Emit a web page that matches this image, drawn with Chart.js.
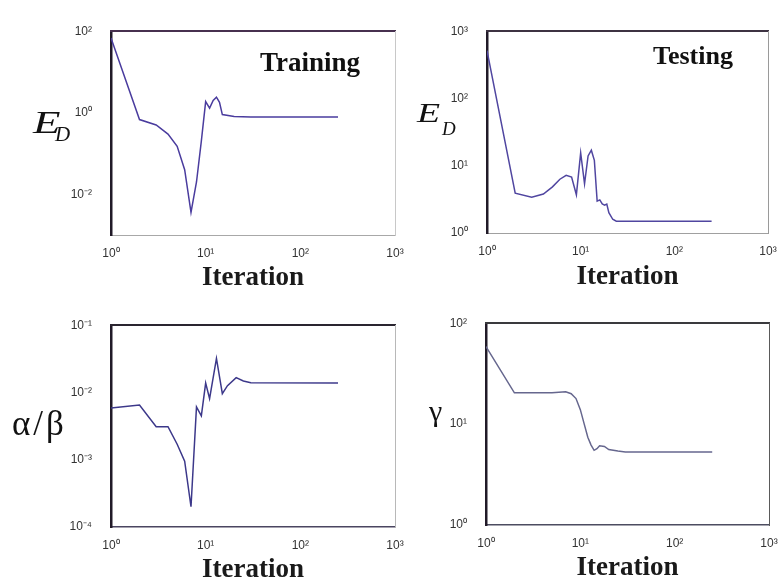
<!DOCTYPE html>
<html>
<head>
<meta charset="utf-8">
<script src="https://cdn.jsdelivr.net/npm/chart.js@4.4.0/dist/chart.umd.min.js"></script>
<style>
  html, body { margin: 0; padding: 0; background: #fff; }
  body { width: 778px; height: 581px; position: relative; overflow: hidden; }
  .panel { position: absolute; }
  .lab { position: absolute; font-family: 'Liberation Serif', 'Times New Roman', serif; color: #111; white-space: nowrap; line-height: 1; }
  .wide { font-style: italic; transform-origin: left center; }
  .sub { font-style: italic; }
  .tag { font-weight: bold; }
</style>
</head>
<body>
<div class="panel" id="pTrain"></div>
<div class="panel" id="pTest"></div>
<div class="panel" id="pRatio"></div>
<div class="panel" id="pGamma"></div>

<div class="lab wide" style="left:33px;top:107px;font-size:31px;transform:scaleX(1.45)">E</div>
<div class="lab sub" style="left:55px;top:124px;font-size:21px">D</div>
<div class="lab wide" style="left:417px;top:100px;font-size:27px;transform:scaleX(1.4)">E</div>
<div class="lab sub" style="left:442px;top:119px;font-size:19px">D</div>
<div class="lab" style="left:12px;top:406px;font-size:35px;letter-spacing:3px">α/β</div>
<div class="lab" style="left:429px;top:396px;font-size:30px">γ</div>
<div class="lab tag" style="left:260px;top:49px;font-size:27px">Training</div>
<div class="lab tag" style="left:653px;top:43px;font-size:26px">Testing</div>

<script>
// iteration axis, shared by all four panels
const xTicks = [1, 10, 100, 1000];
const xTickText = ['10⁰', '10¹', '10²', '10³'];

// training error E_D
const trainIter = [1, 2, 3, 4, 5, 6, 7, 8, 9, 10, 11, 12, 13, 14, 15, 20, 30, 250];
const trainErr = [68, 0.68, 0.5, 0.3, 0.15, 0.04, 0.0036, 0.02, 0.2, 1.87, 1.3, 2.0, 2.4, 1.8, 0.9, 0.81, 0.78, 0.79];
const trainTicks = [0.01, 1, 100];
const trainTickText = ['10⁻²', '10⁰', '10²'];

// testing error E_D
const testIter = [1, 2, 3, 4, 5, 6, 7, 8, 9, 10, 11, 12, 13, 14, 15, 16, 17, 18, 19, 20, 22, 24, 30, 250];
const testErr = [515, 3.9, 3.4, 3.8, 4.85, 6.3, 7.2, 6.8, 3.7, 15.5, 5.4, 14, 17, 12, 2.97, 3.1, 2.7, 2.6, 2.7, 2.0, 1.6, 1.5, 1.5, 1.5];
const testTicks = [1, 10, 100, 1000];
const testTickText = ['10⁰', '10¹', '10²', '10³'];

// alpha / beta
const ratioIter = [1, 2, 3, 4, 5, 6, 7, 8, 9, 10, 11, 13, 15, 17, 21, 25, 30, 250];
const ratioVal = [0.0059, 0.0065, 0.0031, 0.0031, 0.0017, 0.00095, 0.0002, 0.0061, 0.0045, 0.0138, 0.0081, 0.032, 0.0096, 0.0126, 0.0166, 0.0148, 0.014, 0.0138];
const ratioTicks = [0.0001, 0.001, 0.01, 0.1];
const ratioTickText = ['10⁻⁴', '10⁻³', '10⁻²', '10⁻¹'];

// gamma
const gammaIter = [1, 2, 5, 7, 8, 9, 10, 11, 12, 13, 14, 15, 16, 18, 20, 25, 30, 250];
const gammaVal = [58.7, 20.4, 20.4, 20.9, 20, 17.9, 13.9, 10, 7.4, 6.2, 5.5, 5.7, 6.1, 6.0, 5.6, 5.4, 5.3, 5.3];
const gammaTicks = [1, 10, 100];
const gammaTickText = ['10⁰', '10¹', '10²'];

const Y_W = 70, X_H = 64, PAD_T = 10, PAD_R = 14;
const tickFont = { family: "'Liberation Sans', Arial, sans-serif", size: 12 };

function makePanel(id, box, xs, ys, yTicks, yTickText, look) {
  const wrap = document.getElementById(id);
  wrap.style.left = (box.left - Y_W) + 'px';
  wrap.style.top = (box.top - PAD_T) + 'px';
  wrap.style.width = (box.right - box.left + Y_W + PAD_R) + 'px';
  wrap.style.height = (box.bottom - box.top + PAD_T + X_H) + 'px';
  const canvas = document.createElement('canvas');
  wrap.appendChild(canvas);

  const yMin = look.yMin, yMax = yTicks[yTicks.length - 1];
  const fixTicks = vals => s => { s.ticks = vals.map(v => ({ value: v })); };

  new Chart(canvas, {
    type: 'line',
    data: {
      datasets: [{
        data: xs.map((x, i) => ({ x: x, y: ys[i] })),
        borderColor: look.line,
        borderWidth: 1.5,
        pointRadius: 0,
        tension: 0,
        fill: false
      }]
    },
    options: {
      responsive: true,
      maintainAspectRatio: false,
      animation: false,
      layout: { padding: { top: PAD_T, right: PAD_R, left: 0, bottom: 0 } },
      plugins: { legend: { display: false }, tooltip: { enabled: false } },
      scales: {
        x: {
          type: 'logarithmic', position: 'bottom', min: 1, max: 1000,
          afterBuildTicks: fixTicks(xTicks),
          afterFit: s => { s.height = X_H; },
          ticks: {
            callback: v => xTickText[xTicks.indexOf(v)],
            font: tickFont, color: '#333', padding: 3, maxRotation: 0, autoSkip: false
          },
          grid: { display: false },
          border: { color: look.bottom, width: look.bottomW },
          title: {
            display: true, text: 'Iteration', color: '#1a1a1a',
            font: { family: "'Liberation Serif', 'Times New Roman', serif", size: 27, weight: 'bold' },
            padding: { top: 0, bottom: look.titlePad }
          }
        },
        y: {
          type: 'logarithmic', position: 'left', min: yMin, max: yMax,
          afterBuildTicks: fixTicks(yTicks),
          afterFit: s => { s.width = Y_W; },
          ticks: {
            callback: v => yTickText[yTicks.indexOf(v)],
            font: tickFont, color: '#333', padding: 11, autoSkip: false
          },
          grid: { display: false },
          border: { color: '#211a28', width: 2.5 }
        },
        xTop: {
          type: 'logarithmic', position: 'top', min: 1, max: 1000,
          afterFit: s => { s.height = 0; },
          ticks: { display: false }, grid: { display: false },
          border: { color: look.top, width: 2 }
        },
        yRight: {
          type: 'logarithmic', position: 'right', min: yMin, max: yMax,
          afterFit: s => { s.width = 0; },
          ticks: { display: false }, grid: { display: false },
          border: { color: look.right, width: 1 }
        }
      }
    }
  });
}

makePanel('pTrain', { left: 111, top: 23, right: 395, bottom: 235 }, trainIter, trainErr, trainTicks, trainTickText,
  { yMin: 0.001, line: '#4a3c9e', top: '#47304f', bottom: '#a8a8a8', bottomW: 1, right: '#c8c8c8', titlePad: 5 });
makePanel('pTest', { left: 487, top: 23, right: 768, bottom: 233 }, testIter, testErr, testTicks, testTickText,
  { yMin: 1, line: '#5046a0', top: '#3d3342', bottom: '#a0a0a0', bottomW: 1, right: '#9a9a9a', titlePad: 4 });
makePanel('pRatio', { left: 111, top: 317, right: 395, bottom: 527 }, ratioIter, ratioVal, ratioTicks, ratioTickText,
  { yMin: 0.0001, line: '#3c388a', top: '#2a2530', bottom: '#4a4560', bottomW: 1.5, right: '#b8b8b8', titlePad: 5 });
makePanel('pGamma', { left: 486, top: 315, right: 769, bottom: 525 }, gammaIter, gammaVal, gammaTicks, gammaTickText,
  { yMin: 1, line: '#66678e', top: '#3a3a3e', bottom: '#4d4d60', bottomW: 1.5, right: '#5a5a5a', titlePad: 5 });
</script>
</body>
</html>
